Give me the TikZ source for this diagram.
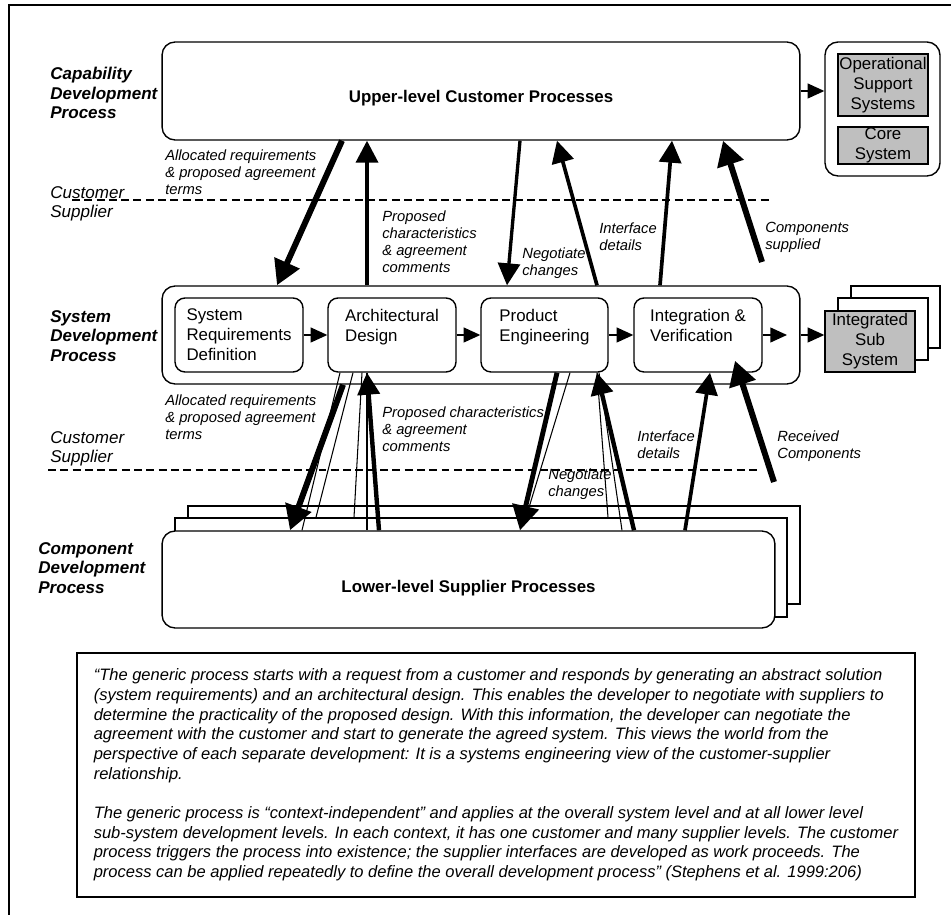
\documentclass[tikz,border=0pt]{standalone}
\usepackage{fontspec}
\setmainfont{Liberation Sans}
\usepackage{tikz}
\usetikzlibrary{arrows.meta,calc}
\newcommand{\boxfont}{\fontsize{9.6}{11.4}\selectfont}
\newcommand{\flowfont}{\fontsize{8.4}{9.7}\selectfont\itshape}
\newcommand{\levelfont}{\fontsize{9.7}{11.1}\selectfont\bfseries\itshape}
\newcommand{\quotefont}{\fontsize{9.4}{11.2}\selectfont\itshape}

\begin{document}
\begin{tikzpicture}[
  x=0.02cm, y=-0.02cm,
  every node/.style={inner sep=0pt,font=\boxfont},
  procbox/.style={draw,line width=0.8pt,rounded corners=0.26cm},
  stepbox/.style={draw,line width=0.8pt,rounded corners=0.2cm,fill=white,
   minimum width=2.56cm,minimum height=1.48cm,align=left},
  greybox/.style={draw,line width=0.8pt,fill=black!25,minimum width=1.8cm,align=center},
  sheet/.style={draw,line width=0.8pt,fill=white},
  level/.style={anchor=north west,align=left,font=\levelfont},
  side/.style={anchor=north west,align=left,font=\fontsize{9.7}{11.1}\selectfont\itshape},
  flowtext/.style={anchor=north west,align=left,font=\flowfont},
  flow/.style={line width=0.8pt,-{Triangle[length=9.5pt,width=8.5pt]}},
  medarrow/.style={line width=2.1pt,-{Triangle[length=12.5pt,width=12.5pt]}},
  bigarrow/.style={line width=3.4pt,-{Triangle[length=14pt,width=15pt]}},
  thinline/.style={line width=0.6pt},
  divide/.style={line width=0.6pt,dash pattern=on 4.5pt off 2.5pt}
  ]
  \useasboundingbox (0,0) rectangle (951,915);
  \draw[line width=0.6pt] (9,915) -- (9,5) -- (951,5);

  \node[level] (Capability) at (50,67) {Capability\\Development\\Process};
  \node[level] (SysDev) at (50,310) {System\\Development\\Process};
  \node[level] (CompDev) at (38,542) {Component\\Development\\Process};
  \node[side] (CustSup1) at (50,186) {Customer\\Supplier};
  \node[side] (CustSup2) at (50,431) {Customer\\Supplier};
  \draw[divide] (72,200) -- (772,200);
  \draw[divide] (48,470) -- (758,470);

  \node[procbox,minimum width=12.76cm,minimum height=1.96cm,font=\boxfont\bfseries,
   text height=0.55cm] (Upper) at (481,91) {Upper-level Customer Processes};
  \node[procbox,minimum width=2.3cm,minimum height=2.68cm] (Ops) at (882.5,109) {};
  \node[greybox,minimum height=1.24cm] (OSS) at (883,85) {Operational\\Support\\Systems};
  \node[greybox,minimum height=0.74cm] (Core) at (883,145.5) {Core\\System};
  \draw[flow] (Upper.east) -- (Upper.east -| Ops.west);

  \node[procbox,minimum width=12.76cm,minimum height=1.96cm] (Middle) at (481,335) {};
  \node[stepbox] (SRD) at (239,335) {System\\Requirements\\Definition};
  \node[stepbox] (Arch) at (392,335) {Architectural\\Design\\\mbox{}};
  \node[stepbox,minimum width=2.54cm] (Prod) at (544.5,335) {Product\\Engineering\\\mbox{}};
  \node[stepbox] (IV) at (698,335) {Integration \&\\Verification\\\mbox{}};
  \coordinate (IVout) at (787,335);
  \draw[flow] (SRD) -- (Arch);
  \draw[flow] (Arch) -- (Prod);
  \draw[flow] (Prod) -- (IV);
  \draw[flow] (IV) -- (IVout);

  \node[sheet,minimum width=1.78cm,minimum height=1.24cm] (Isys3) at (895.5,317) {};
  \node[sheet,minimum width=1.8cm,minimum height=1.24cm] (Isys2) at (883,329) {};
  \node[greybox,minimum height=1.22cm] (Isys) at (870,341.5) {Integrated\\Sub\\System};
  \draw[flow] (Middle.east) -- (Middle.east -| Isys.west);

  \node[sheet,minimum width=12.24cm,minimum height=1.96cm] (Low3) at (494,555) {};
  \node[sheet,minimum width=12.24cm,minimum height=1.98cm] (Low2) at (481,567.5) {};
  \node[procbox,fill=white,minimum width=12.26cm,minimum height=1.94cm,font=\boxfont\bfseries,
   text height=0.6cm] (Low) at (468.5,579.5) {Lower-level Supplier Processes};

  \node[flowtext] (Alloc1) at (165,149) {Allocated requirements\\\& proposed agreement\\terms};
  \node[flowtext] (Prop1) at (382,210) {Proposed\\characteristics\\\& agreement\\comments};
  \node[flowtext] (Nego1) at (522,247) {Negotiate\\changes};
  \node[flowtext] (Intf1) at (599,222) {Interface\\details};
  \node[flowtext] (Comp1) at (765,222) {Components\\supplied};
  \node[flowtext] (Alloc2) at (165,394) {Allocated requirements\\\& proposed agreement\\terms};
  \node[flowtext] (Prop2) at (382,406) {Proposed characteristics\\\& agreement\\comments};
  \node[flowtext] (Nego2) at (548,468) {Negotiate\\changes};
  \node[flowtext] (Intf2) at (637,430) {Interface\\details};
  \node[flowtext] (Recv) at (777,430) {Received\\Components};

  \coordinate (Supplied) at (762,262);
  \coordinate (Received) at (774,482);
  \draw[bigarrow] (Upper.south -| 342,0) -- (Middle.north -| 277,0);
  \draw[medarrow] (Middle.north -| 367,0) -- (Upper.south -| 367,0);
  \draw[medarrow,line width=1.9pt] (Upper.south -| 520,0) -- (Middle.north -| 507,0);
  \draw[medarrow] (Middle.north -| 597,0) -- (Upper.south -| 557,0);
  \draw[medarrow] (Middle.north -| 660,0) -- (Upper.south -| 672,0);
  \draw[bigarrow] (Supplied) -- (Upper.south -| 723,0);

  \draw[thinline] (Arch.south -| 340,0) -- (Low.north -| 302,0);
  \draw[thinline] (Arch.south -| 353,0) -- (Low2.north -| 316,0);
  \draw[thinline] (Arch.south -| 362,0) -- (Low2.north -| 354,0);
  \draw[thinline] (Arch.south -| 367,0) -- (Low.north -| 367,0);
  \draw[bigarrow] (Middle.south -| 343,0) -- (Low.north -| 290,0);
  \draw[medarrow,line width=2.5pt] (Low.north -| 379,0) -- (Arch.south -| 367,0);

  \draw[thinline] (Prod.south -| 570,0) -- (Low2.north -| 526,0);
  \draw[bigarrow,line width=2.8pt] (Prod.south -| 557,0) -- (Low.north -| 520,0);
  \draw[thinline] (Prod.south -| 597,0) -- (Low2.north -| 608,0);
  \draw[thinline] (Prod.south -| 599,0) -- (Low.north -| 622,0);
  \draw[medarrow,line width=2.5pt] (Low.north -| 634,0) -- (Prod.south -| 597,0);
  \draw[medarrow] (Low.north -| 685,0) -- (IV.south -| 710,0);
  \draw[bigarrow] (Received) -- ($(IV.south -| 735,0)+(0,-12)$);

  \node[draw,line width=0.8pt,minimum width=16.76cm,minimum height=4.88cm,
   align=left,font=\quotefont] (Quote) at (496,775) {%
   “The generic process starts with a request from a customer and responds by generating an abstract solution\\
   (system requirements) and an architectural design. This enables the developer to negotiate with suppliers to\\
   determine the practicality of the proposed design. With this information, the developer can negotiate the\\
   agreement with the customer and start to generate the agreed system. This views the world from the\\
   perspective of each separate development: It is a systems engineering view of the customer-supplier\\
   relationship.\\[11.2pt]
   The generic process is “context-independent” and applies at the overall system level and at all lower level\\
   sub-system development levels. In each context, it has one customer and many supplier levels. The customer\\
   process triggers the process into existence; the supplier interfaces are developed as work proceeds. The\\
   process can be applied repeatedly to define the overall development process” (Stephens et al. 1999:206)};
\end{tikzpicture}
\end{document}
